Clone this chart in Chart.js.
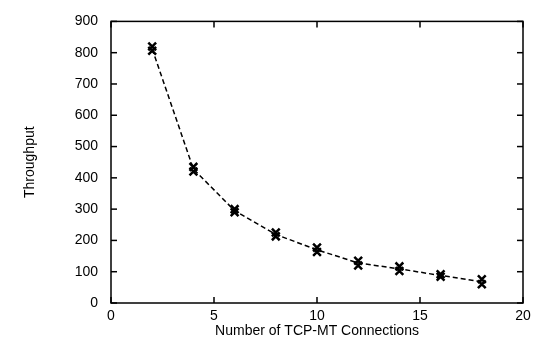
<!DOCTYPE html>
<html><head><meta charset="utf-8">
<script src="https://cdn.jsdelivr.net/npm/chart.js@4/dist/chart.umd.min.js"></script>
<style>html,body{margin:0;padding:0;background:#fff}#w{width:544px;height:344px}</style>
</head><body><div id="w"><canvas id="c"></canvas></div>
<script>
const connections = [2, 4, 6, 8, 10, 12, 14, 16, 18];
const throughputHigh = [820, 435, 300, 225, 177, 135, 117, 92, 76];
const throughputLow  = [806, 420, 290, 213, 163, 120, 102, 84, 60];
const throughputLine = [812, 428, 295, 219, 170, 128, 109, 88, 68];
const xTicks = [0, 5, 10, 15, 20];
const yTicks = [0, 100, 200, 300, 400, 500, 600, 700, 800, 900];

const pts = (ys) => connections.map((x, i) => ({x, y: ys[i]}));

const inwardTicks = {
  id: 'inwardTicks',
  afterDatasetsDraw(chart) {
    const {ctx, chartArea: a, scales: {x, y}} = chart;
    ctx.save();
    ctx.strokeStyle = '#000';
    ctx.lineWidth = 1.5;
    const L = 6;
    xTicks.forEach(v => {
      const px = x.getPixelForValue(v);
      ctx.beginPath(); ctx.moveTo(px, a.bottom); ctx.lineTo(px, a.bottom - L); ctx.stroke();
      ctx.beginPath(); ctx.moveTo(px, a.top); ctx.lineTo(px, a.top + L); ctx.stroke();
    });
    yTicks.forEach(v => {
      const py = y.getPixelForValue(v);
      ctx.beginPath(); ctx.moveTo(a.left, py); ctx.lineTo(a.left + L, py); ctx.stroke();
      ctx.beginPath(); ctx.moveTo(a.right, py); ctx.lineTo(a.right - L, py); ctx.stroke();
    });
    ctx.lineWidth = 1.5;
    ctx.strokeRect(a.left, a.top, a.right - a.left, a.bottom - a.top);
    ctx.restore();
  }
};

const font = {family: 'Liberation Sans, Arial, sans-serif', size: 14};

new Chart(document.getElementById('c'), {
  type: 'scatter',
  data: {
    datasets: [
      {data: pts(throughputLine), showLine: true, borderColor: '#000', borderWidth: 1.5,
       borderDash: [5, 3], pointRadius: 0, fill: false, tension: 0},
      {data: pts(throughputHigh), showLine: false, pointStyle: 'crossRot', pointRadius: 5.5,
       borderColor: '#000', borderWidth: 2.5},
      {data: pts(throughputLow), showLine: false, pointStyle: 'crossRot', pointRadius: 5.5,
       borderColor: '#000', borderWidth: 2.5}
    ]
  },
  options: {
    responsive: true, maintainAspectRatio: false, animation: false,
    layout: {padding: {left: 0, right: 21, top: 15, bottom: 0}},
    plugins: {legend: {display: false}, tooltip: {enabled: false}},
    scales: {
      x: {
        type: 'linear', min: 0, max: 20,
        afterBuildTicks(s) { s.ticks = xTicks.map(v => ({value: v})); },
        afterFit(s) { s.height = 41; },
        grid: {display: false, drawTicks: false},
        border: {display: false},
        ticks: {color: '#000', font, padding: 5, maxRotation: 0},
        title: {display: true, text: 'Number of TCP-MT Connections', color: '#000', font,
                padding: {top: 0, bottom: 4}}
      },
      y: {
        type: 'linear', min: 0, max: 900,
        afterBuildTicks(s) { s.ticks = yTicks.map(v => ({value: v})); },
        afterFit(s) { s.width = 111; },
        grid: {display: false, drawTicks: false},
        border: {display: false},
        ticks: {color: '#000', font, padding: 13},
        title: {display: true, text: 'Throughput', color: '#000', font,
                padding: {top: 22, bottom: 0}}
      }
    }
  },
  plugins: [inwardTicks]
});
</script></body></html>
